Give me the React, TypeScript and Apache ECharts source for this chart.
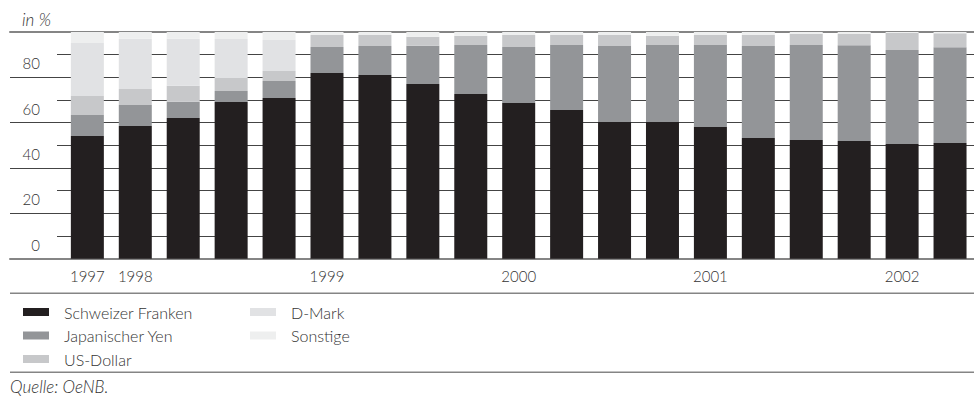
import React, { useEffect, useRef } from "react";
import * as echarts from "echarts";

const categories = [
  "1997", "1998-Q1", "1998-Q2", "1998-Q3", "1998-Q4",
  "1999-Q1", "1999-Q2", "1999-Q3", "1999-Q4",
  "2000-Q1", "2000-Q2", "2000-Q3", "2000-Q4",
  "2001-Q1", "2001-Q2", "2001-Q3", "2001-Q4",
  "2002-Q1", "2002-Q2",
];
const xLabels = [
  "1997", "1998", "", "", "",
  "1999", "", "", "",
  "2000", "", "", "",
  "2001", "", "", "",
  "2002", "",
];

const chf = [54.1, 58.5, 62.1, 69.1, 70.9, 81.9, 81.0, 77.1, 72.7, 68.7, 65.6, 60.3, 60.3, 58.1, 53.2, 52.4, 51.9, 50.6, 51.0];
const jpy = [9.3, 9.3, 7.1, 4.9, 7.5, 11.5, 12.8, 16.8, 21.6, 24.7, 28.7, 33.5, 34.0, 36.2, 40.6, 41.9, 42.3, 41.5, 42.3];
const usd = [8.4, 7.1, 7.1, 5.7, 4.4, 5.3, 4.9, 4.0, 4.0, 5.3, 4.4, 4.9, 4.0, 4.4, 4.9, 4.9, 4.9, 7.5, 6.2];
const dem = [23.4, 22.1, 20.7, 17.2, 13.7, 0, 0, 0, 0, 0, 0, 0, 0, 0, 0, 0, 0, 0, 0];
const other = [4.8, 3.0, 3.0, 3.1, 3.5, 1.3, 1.3, 2.1, 1.7, 1.3, 1.3, 1.3, 1.7, 1.3, 1.3, 0.8, 0.9, 0.4, 0.5];

const seriesNames = ["Schweizer Franken", "Japanischer Yen", "US-Dollar", "D-Mark", "Sonstige"];
const seriesColors = ["#231f20", "#939598", "#c7c8ca", "#e1e2e4", "#eeefef"];
const seriesData = [chf, jpy, usd, dem, other];

const FONT = "Lato, 'Open Sans', sans-serif";
const TEXT = "#333333";

export default function App() {
  const ref = useRef<HTMLDivElement>(null);

  useEffect(() => {
    if (!ref.current) return;
    const chart = echarts.init(ref.current, null, { renderer: "svg" });
    const gridTop = 32;
    const gridBottom = 139.3;
    const legendText = {
      color: TEXT, fontSize: 16, fontFamily: FONT, fontWeight: 300,
      lineHeight: 16, padding: [0, 0, 0, 10],
    };

    chart.setOption({
      animation: false,
      backgroundColor: "#ffffff",
      textStyle: { fontFamily: FONT },
      grid: [
        { left: 10, right: 0, top: gridTop, bottom: gridBottom },
        { left: 57, right: 0, top: gridTop, bottom: gridBottom },
        { left: 63.4, right: -4.6, top: gridTop, bottom: gridBottom },
      ],
      xAxis: [
        {
          gridIndex: 0, type: "value", min: 0, max: 1, position: "bottom",
          axisLine: { show: true, lineStyle: { color: "#858585", width: 2 } },
          axisTick: { show: false }, axisLabel: { show: false }, splitLine: { show: false },
        },
        {
          gridIndex: 0, type: "value", min: 0, max: 1, position: "top",
          axisLine: { show: true, lineStyle: { color: "#858585", width: 2 } },
          axisTick: { show: false }, axisLabel: { show: false }, splitLine: { show: false },
        },
        {
          gridIndex: 1, type: "value", min: 0, max: 1, show: false,
        },
        {
          gridIndex: 2, type: "category", data: categories,
          axisLine: { show: false }, axisTick: { show: false },
          axisLabel: {
            interval: 0, margin: 10, color: TEXT, fontSize: 15, fontFamily: FONT, fontWeight: 300,
            formatter: (_v: string, i: number) => xLabels[i],
          },
        },
      ],
      yAxis: [
        {
          gridIndex: 0, type: "value", min: 0, max: 100, interval: 20,
          axisLine: { show: false }, axisTick: { show: false },
          splitLine: { show: true, lineStyle: { color: "#444444", width: 1 } },
          axisLabel: {
            inside: true, margin: 30, align: "right", verticalAlign: "bottom",
            padding: [0, 0, 6, 0], lineHeight: 16,
            color: TEXT, fontSize: 15, fontFamily: FONT, fontWeight: 300,
            showMaxLabel: false,
          },
        },
        {
          gridIndex: 1, type: "value", min: 0, max: 100, interval: 10,
          axisLine: { show: false }, axisTick: { show: false }, axisLabel: { show: false },
          splitLine: { show: true, lineStyle: { color: "#444444", width: 1 } },
        },
        {
          gridIndex: 2, type: "value", min: 0, max: 100, show: false,
          splitLine: { show: false },
        },
      ],
      legend: [
        {
          data: seriesNames.slice(0, 3),
          orient: "vertical", left: 23, top: 304, padding: 0, itemGap: 7.5,
          itemWidth: 26, itemHeight: 8, icon: "rect",
          textStyle: legendText,
        },
        {
          data: seriesNames.slice(3),
          orient: "vertical", left: 250, top: 304, padding: 0, itemGap: 7.5,
          itemWidth: 26, itemHeight: 8, icon: "rect",
          textStyle: legendText,
        },
      ],
      series: seriesNames.map((name, i) => ({
        name,
        type: "bar",
        stack: "total",
        xAxisIndex: 3,
        yAxisIndex: 2,
        barWidth: 33,
        data: seriesData[i],
        itemStyle: { color: seriesColors[i] },
        emphasis: { disabled: true },
      })),
      graphic: [
        {
          type: "text", left: 22, top: 11,
          style: { text: "in %", font: `italic 300 17px ${FONT}`, fill: TEXT },
        },
        {
          type: "line", shape: { x1: 10, y1: 293.3, x2: 974, y2: 293.3 },
          style: { stroke: "#858585", lineWidth: 1.5 },
        },
        {
          type: "line", shape: { x1: 10, y1: 372.3, x2: 974, y2: 372.3 },
          style: { stroke: "#858585", lineWidth: 1.5 },
        },
        {
          type: "text", left: 10, top: 378,
          style: { text: "Quelle: OeNB.", font: `italic 300 17px ${FONT}`, fill: TEXT },
        },
      ],
    });
    return () => chart.dispose();
  }, []);

  return (
    <div
      ref={ref}
      style={{ position: "absolute", left: 0, top: 0, width: 974, height: 398 }}
    />
  );
}
